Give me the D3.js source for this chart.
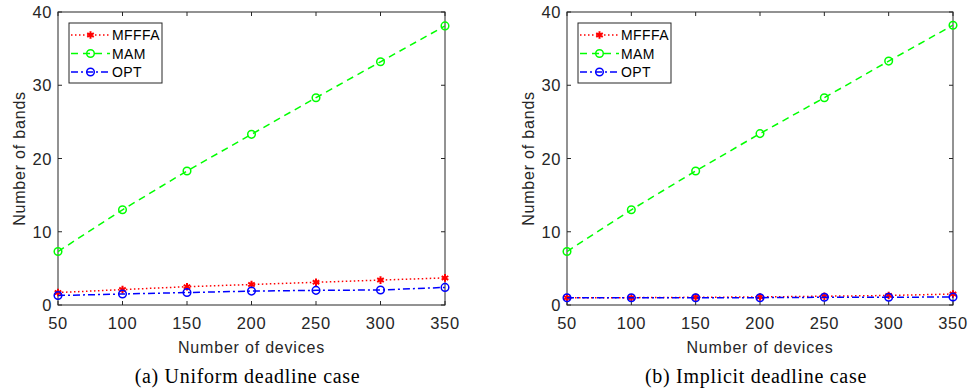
<!DOCTYPE html>
<html>
<head>
<meta charset="utf-8">
<script src="https://cdn.jsdelivr.net/npm/d3@7"></script>
<style>
  body { margin: 0; background: #fff; }
  svg { display: block; }
</style>
</head>
<body>
<svg id="chart" width="969" height="392"></svg>
<script>
// devices on the x axis
const devices = [50, 100, 150, 200, 250, 300, 350]
const xTicks = [50, 100, 150, 200, 250, 300, 350]
const yTicks = [0, 10, 20, 30, 40]

// (a) uniform deadline
const mfffaA = [1.7, 2.1, 2.5, 2.8, 3.1, 3.4, 3.7]
const mamA = [7.3, 13.0, 18.3, 23.3, 28.3, 33.2, 38.1]
const optA = [1.3, 1.5, 1.7, 1.9, 2.0, 2.05, 2.4]

// (b) implicit deadline
const mfffaB = [1.0, 1.0, 1.05, 1.1, 1.2, 1.3, 1.5]
const mamB = [7.3, 13.0, 18.3, 23.4, 28.3, 33.3, 38.2]
const optB = [1.0, 1.0, 1.0, 1.0, 1.05, 1.05, 1.1]

const seriesNames = ["MFFFA", "MAM", "OPT"]
const captions = ["(a) Uniform deadline case", "(b) Implicit deadline case"]

var svg = d3.select("#chart")
var axisColor = "#262626"
var font = "'Liberation Sans', Arial, Helvetica, sans-serif"

var styles = {
    "MFFFA": {color: "#ff0000", dash: "1.5,2.5", marker: "star"},
    "MAM": {color: "#00ff00", dash: "7,5", marker: "circle"},
    "OPT": {color: "#0000ff", dash: "7,3,2,3", marker: "circle"}
}

var drawPanel = function (left, right, data, caption) {
    let top = 12, bottom = 305
    let x = d3.scaleLinear().domain([50, 350]).range([left, right])
    let y = d3.scaleLinear().domain([0, 40]).range([bottom, top])
    let g = svg.append("g")

    // frame
    g.append("rect")
        .attr("x", left).attr("y", top)
        .attr("width", right - left).attr("height", bottom - top)
        .attr("fill", "none").attr("stroke", axisColor).attr("stroke-width", 1)

    // ticks inside on all four sides
    xTicks.forEach((t) => {
        g.append("line").attr("x1", x(t)).attr("x2", x(t)).attr("y1", bottom).attr("y2", bottom - 4)
            .attr("stroke", axisColor)
        g.append("line").attr("x1", x(t)).attr("x2", x(t)).attr("y1", top).attr("y2", top + 4)
            .attr("stroke", axisColor)
        g.append("text").attr("x", x(t)).attr("y", bottom + 24)
            .attr("text-anchor", "middle").attr("font-family", font).attr("font-size", 16.5)
            .attr("letter-spacing", 0.6).attr("fill", axisColor).text(t)
    })
    yTicks.forEach((t) => {
        g.append("line").attr("x1", left).attr("x2", left + 4).attr("y1", y(t)).attr("y2", y(t))
            .attr("stroke", axisColor)
        g.append("line").attr("x1", right).attr("x2", right - 4).attr("y1", y(t)).attr("y2", y(t))
            .attr("stroke", axisColor)
        g.append("text").attr("x", left - 6).attr("y", y(t) + 6)
            .attr("text-anchor", "end").attr("font-family", font).attr("font-size", 16.5)
            .attr("letter-spacing", 0.6).attr("fill", axisColor).text(t)
    })

    // axis titles
    g.append("text").attr("x", (left + right) / 2).attr("y", bottom + 48)
        .attr("text-anchor", "middle").attr("font-family", font).attr("font-size", 16)
        .attr("letter-spacing", 0.8).attr("fill", axisColor).text("Number of devices")
    g.append("text")
        .attr("transform", "translate(" + (left - 33) + "," + ((top + bottom) / 2) + ") rotate(-90)")
        .attr("text-anchor", "middle").attr("font-family", font).attr("font-size", 16)
        .attr("letter-spacing", 0.8).attr("fill", axisColor).text("Number of bands")
    g.append("text").attr("x", (left + right) / 2 - 4).attr("y", bottom + 78)
        .attr("text-anchor", "middle").attr("font-family", "'Liberation Serif', 'Times New Roman', serif")
        .attr("font-size", 20).attr("letter-spacing", 0.7).attr("fill", "#000").text(caption)

    let line = d3.line()
        .x((d) => x(d.x))
        .y((d) => y(d.y))

    seriesNames.forEach((name, i) => {
        let st = styles[name]
        let pts = devices.map((d, j) => ({x: d, y: data[i][j]}))
        g.append("path").datum(pts).attr("d", line)
            .attr("fill", "none").attr("stroke", st.color).attr("stroke-width", 1.5)
            .attr("stroke-dasharray", st.dash)
        drawMarkers(g, pts.map((p) => [x(p.x), y(p.y)]), st)
    })

    // legend
    let lx = left + 11, ly = 23
    g.append("rect").attr("x", lx).attr("y", ly).attr("width", 93).attr("height", 60)
        .attr("fill", "#fff").attr("stroke", axisColor).attr("stroke-width", 1)
    seriesNames.forEach((name, i) => {
        let st = styles[name]
        let ry = ly + 12 + i * 18.5
        g.append("line").attr("x1", lx + 2).attr("x2", lx + 41).attr("y1", ry).attr("y2", ry)
            .attr("stroke", st.color).attr("stroke-width", 1.5).attr("stroke-dasharray", st.dash)
        drawMarkers(g, [[lx + 21.5, ry]], st)
        g.append("text").attr("x", lx + 43).attr("y", ry + 5)
            .attr("font-family", font).attr("font-size", 14).attr("letter-spacing", 0.4)
            .attr("fill", "#000").text(name)
    })
}

var drawMarkers = function (g, pts, st) {
    if (st.marker === "circle") {
        g.selectAll(null).data(pts).enter().append("circle")
            .attr("cx", (d) => d[0]).attr("cy", (d) => d[1]).attr("r", 3.8)
            .attr("fill", "none").attr("stroke", st.color).attr("stroke-width", 1.5)
    } else {
        let sym = d3.symbol().type(d3.symbolAsterisk).size(40)
        g.selectAll(null).data(pts).enter().append("path")
            .attr("d", sym)
            .attr("transform", (d) => "translate(" + d[0] + "," + d[1] + ")")
            .attr("fill", "none").attr("stroke", st.color).attr("stroke-width", 2)
    }
}

drawPanel(58, 445, [mfffaA, mamA, optA], captions[0])
drawPanel(567, 953, [mfffaB, mamB, optB], captions[1])
</script>
</body>
</html>
